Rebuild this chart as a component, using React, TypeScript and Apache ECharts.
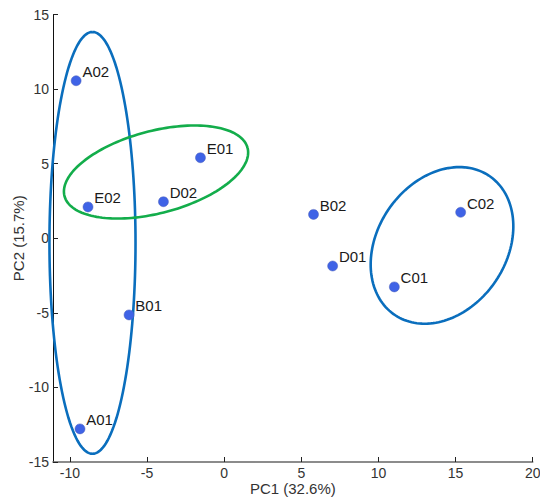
import React, { useEffect, useRef } from "react";
import * as echarts from "echarts";

const sampleNames = ["A02", "E02", "D02", "E01", "B01", "A01", "B02", "D01", "C01", "C02"];
const pc1Values = [-9.6, -8.83, -3.94, -1.54, -6.17, -9.35, 5.79, 7.03, 11.03, 15.33];
const pc2Values = [10.56, 2.1, 2.45, 5.4, -5.14, -12.78, 1.6, -1.86, -3.26, 1.74];

// confidence ellipses (data units): centre, semi-major, semi-minor, rotation (deg)
const ellipseCenterX = [-8.54, -4.42, 14.12];
const ellipseCenterY = [-0.31, 4.44, -0.48];
const ellipseSemiMajor = [14.14, 6.15, 5.58];
const ellipseSemiMinor = [2.79, 2.75, 4.22];
const ellipseRotationDeg = [90, 15.5, 58.8];
const ellipseColors = ["#0A6EBD", "#13AD4B", "#0A6EBD"];

const xAxisTitle = "PC1 (32.6%)";
const yAxisTitle = "PC2 (15.7%)";

const FONT = 'Arial, "Liberation Sans", Helvetica, sans-serif';

export default function App() {
  const ref = useRef<HTMLDivElement>(null);

  useEffect(() => {
    document.body.style.margin = "0";
    if (!ref.current) return;
    const chart = echarts.init(ref.current, undefined, { renderer: "svg" });

    const scatterData = sampleNames.map((n, i) => [pc1Values[i], pc2Values[i], n]);
    const ellipseData = ellipseCenterX.map((x, i) => [x, ellipseCenterY[i]]);

    chart.setOption({
      animation: false,
      backgroundColor: "#ffffff",
      grid: {
        left: 53,
        right: 7.3,
        top: 14.5,
        bottom: 36,
        containLabel: false,
        outerBoundsMode: "none",
      },
      xAxis: {
        type: "value",
        min: -11.1,
        max: 20,
        splitNumber: 5,
        minInterval: 5,
        maxInterval: 5,
        name: xAxisTitle,
        nameLocation: "middle",
        nameGap: 19,
        nameMoveOverlap: false,
        nameTextStyle: { fontFamily: FONT, fontSize: 15, lineHeight: 15, color: "#333" },
        splitLine: { show: false },
        axisLine: { onZero: false, lineStyle: { color: "#666", width: 1.6 } },
        axisTick: { inside: true, length: 5, lineStyle: { color: "#222" } },
        axisLabel: {
          showMinLabel: false,
          margin: 4,
          fontFamily: FONT,
          fontSize: 14,
          lineHeight: 14,
          color: "#333",
        },
      },
      yAxis: {
        type: "value",
        min: -15,
        max: 15,
        interval: 5,
        name: yAxisTitle,
        nameLocation: "middle",
        nameGap: 27.5,
        nameMoveOverlap: false,
        nameTextStyle: { fontFamily: FONT, fontSize: 15, lineHeight: 15, color: "#333" },
        splitLine: { show: false },
        axisLine: { onZero: false, lineStyle: { color: "#111", width: 1 } },
        axisTick: { inside: true, length: 5, lineStyle: { color: "#222" } },
        axisLabel: { margin: 4, fontFamily: FONT, fontSize: 14, color: "#333" },
      },
      series: [
        {
          type: "custom",
          clip: false,
          silent: true,
          z: 1,
          data: ellipseData,
          encode: { x: 0, y: 1 },
          renderItem: (params: any, api: any) => {
            const i = params.dataIndex;
            const cx = ellipseCenterX[i];
            const cy = ellipseCenterY[i];
            const a = ellipseSemiMajor[i];
            const b = ellipseSemiMinor[i];
            const th = (ellipseRotationDeg[i] * Math.PI) / 180;
            const pts: number[][] = [];
            const N = 160;
            for (let k = 0; k <= N; k++) {
              const t = (2 * Math.PI * k) / N;
              const x = cx + a * Math.cos(t) * Math.cos(th) - b * Math.sin(t) * Math.sin(th);
              const y = cy + a * Math.cos(t) * Math.sin(th) + b * Math.sin(t) * Math.cos(th);
              pts.push(api.coord([x, y]));
            }
            return {
              type: "polyline",
              shape: { points: pts },
              style: { fill: "none", stroke: ellipseColors[i], lineWidth: 2.6 },
            };
          },
        },
        {
          type: "scatter",
          z: 3,
          symbol: "circle",
          symbolSize: 10,
          itemStyle: { color: "#3F63E6", borderColor: "#4A5FB8", borderWidth: 0.5, opacity: 1 },
          data: scatterData,
          label: {
            show: true,
            position: "right",
            distance: 1,
            offset: [0, -9],
            formatter: (p: any) => p.data[2],
            fontFamily: FONT,
            fontSize: 15,
            color: "#1a1a1a",
          },
        },
      ],
    });

    return () => chart.dispose();
  }, []);

  return <div ref={ref} style={{ width: 540, height: 498 }} />;
}
